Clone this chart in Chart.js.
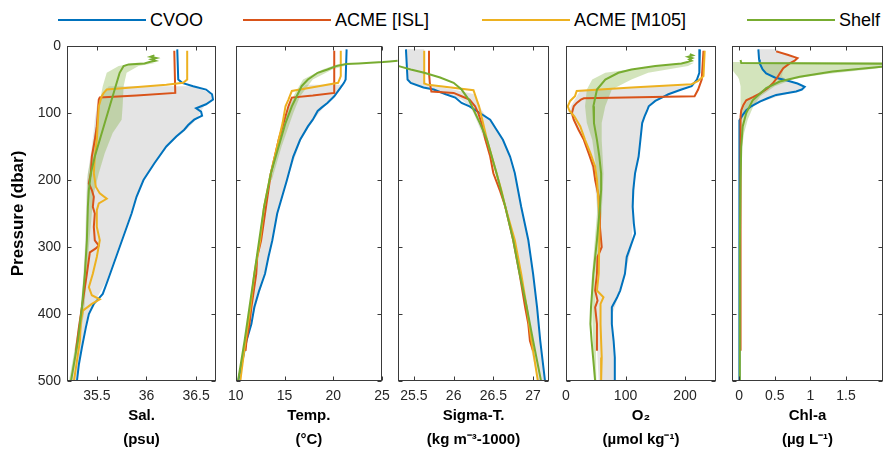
<!DOCTYPE html>
<html>
<head>
<meta charset="utf-8">
<script src="https://cdn.jsdelivr.net/npm/chart.js@4.4.0/dist/chart.umd.min.js"></script>
<style>
  body { margin: 0; background: #fff; width: 885px; height: 454px; position: relative; overflow: hidden;
         font-family: 'Liberation Sans', Arial, sans-serif; }
  canvas { position: absolute; top: 0; }
  .lg-line { position: absolute; height: 2px; top: 19px; }
  .lg-text { position: absolute; top: 9px; font-size: 18px; line-height: 22px; color: #000; white-space: nowrap; }
</style>
</head>
<body>
<div id="legend"></div>
<canvas id="c0"></canvas>
<canvas id="c1"></canvas>
<canvas id="c2"></canvas>
<canvas id="c3"></canvas>
<canvas id="c4"></canvas>
<script>
// series
const seriesNames = ['CVOO', 'ACME [ISL]', 'ACME [M105]', 'Shelf'];
const seriesColors = ['#0072BD', '#D95319', '#EDB120', '#77AC30'];

// pressure axis
const pTicks = [0, 100, 200, 300, 400, 500];

// ---- salinity (psu)
const salTicks = [35.5, 36, 36.5];
const salCvooP = [5, 50, 55, 60, 65, 72, 80, 87, 93, 98, 104, 110, 118, 125, 135, 150, 175, 200, 225, 250, 275, 300, 325, 350, 370, 385, 400, 420, 450, 475, 500];
const salCvoo  = [36.31, 36.32, 36.36, 36.47, 36.6, 36.66, 36.67, 36.6, 36.5, 36.55, 36.56, 36.48, 36.42, 36.38, 36.3, 36.2, 36.08, 35.97, 35.9, 35.85, 35.79, 35.73, 35.67, 35.61, 35.56, 35.47, 35.42, 35.39, 35.35, 35.32, 35.3];
const salIslP  = [7, 70, 74, 77, 80, 100, 120, 140, 165, 190, 205, 215, 225, 240, 250, 270, 290, 298, 302, 308, 340, 390, 420, 455];
const salIsl   = [36.28, 36.29, 35.9, 35.53, 35.52, 35.51, 35.5, 35.48, 35.45, 35.44, 35.42, 35.45, 35.47, 35.46, 35.48, 35.47, 35.48, 35.52, 35.49, 35.43, 35.4, 35.35, 35.32, 35.29];
const salM105P = [7, 50, 55, 58, 62, 65, 70, 75, 90, 115, 140, 165, 190, 210, 220, 228, 235, 245, 270, 290, 315, 340, 360, 372, 378, 385, 395, 410, 440, 470, 500];
const salM105  = [36.41, 36.41, 36.37, 36.2, 35.85, 35.6, 35.57, 35.55, 35.52, 35.51, 35.5, 35.48, 35.47, 35.49, 35.53, 35.6, 35.52, 35.5, 35.5, 35.53, 35.5, 35.46, 35.42, 35.45, 35.53, 35.45, 35.36, 35.34, 35.33, 35.3, 35.27];
const salShelfP = [14, 16, 18, 20, 22, 24, 26, 27.5, 30, 40, 50, 65, 90, 115, 140, 165, 190, 215, 240, 290, 340, 390, 440, 500];
const salShelf  = [36.08, 36.04, 36.1, 36.05, 36.09, 36.03, 35.98, 35.82, 35.77, 35.73, 35.71, 35.68, 35.63, 35.58, 35.53, 35.48, 35.44, 35.42, 35.41, 35.4, 35.38, 35.35, 35.31, 35.24];
const salGreyP  = [60, 70, 80, 90, 100, 110, 125, 150, 200, 250, 300, 350, 400, 450, 500];
const salGreyLo = [35.62, 35.56, 35.52, 35.5, 35.49, 35.48, 35.47, 35.45, 35.4, 35.39, 35.38, 35.36, 35.33, 35.28, 35.24];
const salGreyHi = [36.47, 36.64, 36.66, 36.58, 36.54, 36.5, 36.4, 36.2, 35.96, 35.84, 35.72, 35.6, 35.41, 35.34, 35.29];
const salShelfBandP  = [25, 30, 40, 60, 90, 110, 130, 160, 190, 220, 250, 300, 400, 500];
const salShelfBandLo = [35.9, 35.72, 35.6, 35.56, 35.52, 35.5, 35.48, 35.45, 35.41, 35.4, 35.4, 35.39, 35.34, 35.22];
const salShelfBandHi = [36.1, 35.92, 35.8, 35.77, 35.76, 35.75, 35.66, 35.58, 35.52, 35.47, 35.45, 35.42, 35.37, 35.25];

// ---- temperature (degC)
const tmpTicks = [10, 15, 20, 25];
const tmpCvooP = [5, 50, 55, 65, 75, 85, 92, 97, 110, 120, 140, 165, 200, 225, 250, 290, 315, 340, 365, 390, 415, 440, 465, 500];
const tmpCvoo  = [21.37, 21.27, 21.1, 20.6, 20.1, 19.4, 18.8, 18.4, 17.9, 17.4, 16.6, 15.9, 15.25, 14.75, 14.25, 13.75, 13.35, 13.0, 12.4, 11.9, 11.6, 11.1, 10.75, 10.25];
const tmpIslP  = [7, 70, 74, 77, 90, 115, 140, 190, 240, 290, 315, 340, 390, 415, 440, 455];
const tmpIsl   = [20.1, 20.1, 17.9, 15.75, 15.4, 14.9, 14.4, 13.6, 13.1, 12.6, 12.2, 12.1, 11.6, 11.4, 11.1, 11.0];
const tmpM105P = [7, 45, 55, 60, 67, 80, 90, 115, 140, 190, 240, 290, 340, 390, 440, 490, 500];
const tmpM105  = [20.77, 20.77, 20.5, 18.5, 15.75, 15.4, 15.1, 14.8, 14.4, 13.6, 12.9, 12.5, 11.9, 11.5, 11.0, 10.55, 10.47];
const tmpShelfP = [22, 23, 24, 25, 26, 27, 30, 35, 40, 50, 60, 75, 90, 115, 140, 190, 240, 290, 340, 390, 440, 500];
const tmpShelf  = [26.6, 25.8, 25.1, 23.8, 22.6, 21.3, 20.3, 19.4, 18.4, 17.4, 16.75, 16.25, 15.75, 15.1, 14.6, 13.6, 12.9, 12.4, 11.9, 11.4, 10.9, 10.23];
const tmpGreyP  = [58, 65, 75, 90, 110, 140, 200, 250, 300, 350, 400, 450, 500];
const tmpGreyLo = [17.2, 16.5, 16.1, 15.5, 14.9, 14.3, 13.4, 12.8, 12.3, 11.8, 11.3, 10.8, 10.2];
const tmpGreyHi = [21.1, 20.7, 20.1, 19.1, 18.0, 16.7, 15.25, 14.25, 13.6, 12.8, 11.85, 11.0, 10.25];
const tmpShelfBandP  = [27, 35, 50, 75, 100, 150, 200];
const tmpShelfBandLo = [20.5, 18.9, 16.9, 15.9, 15.3, 14.2, 13.3];
const tmpShelfBandHi = [21.8, 19.9, 17.9, 16.6, 15.9, 14.7, 13.7];

// ---- sigma-T (kg m-3 - 1000)
const sigTicks = [25.5, 26, 26.5, 27];
const sigCvooP = [5, 50, 55, 62, 65, 72, 77, 85, 90, 100, 110, 125, 140, 165, 190, 215, 240, 290, 340, 390, 440, 500];
const sigCvoo  = [25.4, 25.42, 25.46, 25.62, 25.75, 25.9, 26.02, 26.1, 26.2, 26.33, 26.46, 26.54, 26.62, 26.71, 26.77, 26.81, 26.85, 26.94, 27.0, 27.05, 27.09, 27.15];
const sigIslP  = [7, 40, 55, 68, 70, 75, 80, 90, 100, 115, 140, 165, 190, 215, 240, 290, 340, 390, 415, 440, 455];
const sigIsl   = [25.69, 25.69, 25.7, 25.72, 26.0, 26.1, 26.2, 26.27, 26.31, 26.35, 26.4, 26.46, 26.5, 26.58, 26.65, 26.75, 26.83, 26.9, 26.94, 26.96, 27.0];
const sigM105P = [7, 56, 58, 66, 80, 90, 115, 140, 165, 190, 215, 240, 290, 340, 390, 440, 500];
const sigM105  = [25.63, 25.63, 25.68, 26.25, 26.29, 26.32, 26.37, 26.42, 26.48, 26.54, 26.6, 26.65, 26.77, 26.85, 26.92, 26.98, 27.06];
const sigShelfP = [25, 28, 30, 35, 40, 47, 55, 65, 80, 100, 115, 140, 190, 240, 290, 340, 390, 440, 500];
const sigShelf  = [25.1, 25.25, 25.31, 25.46, 25.63, 25.83, 26.0, 26.1, 26.19, 26.27, 26.33, 26.42, 26.54, 26.65, 26.75, 26.83, 26.92, 27.0, 27.1];
const sigGreyP  = [5, 50, 58, 65, 72, 80, 90, 100, 120, 150, 200, 250, 300, 350, 400, 450, 500];
const sigGreyLo = [25.4, 25.42, 25.5, 25.7, 25.9, 26.1, 26.2, 26.25, 26.32, 26.42, 26.55, 26.66, 26.77, 26.84, 26.91, 26.97, 27.06];
const sigGreyHi = [25.63, 25.63, 25.66, 26.0, 26.26, 26.29, 26.32, 26.38, 26.52, 26.66, 26.78, 26.87, 26.95, 27.01, 27.06, 27.1, 27.15];

// ---- oxygen (umol kg-1)
const oxyTicks = [0, 100, 200];
const oxyCvooP = [5, 40, 50, 60, 65, 72, 77, 82, 90, 97, 105, 115, 140, 165, 190, 215, 240, 265, 280, 290, 315, 340, 365, 375, 390, 415, 440, 465, 500];
const oxyCvoo  = [225, 224, 220, 211, 194, 172, 161, 150, 139, 136, 132, 128, 125, 122, 116, 113, 112, 114, 116, 112, 102, 99, 91, 86, 77, 77, 80, 82, 82];
const oxyIslP  = [7, 50, 65, 75, 78, 80, 85, 90, 100, 110, 125, 140, 160, 180, 200, 225, 250, 270, 300, 315, 340, 365, 380, 390, 415, 440, 455];
const oxyIsl   = [231, 228, 222, 216, 30, 25, 18, 13, 10, 13, 21, 30, 38, 46, 49, 55, 57, 57, 60, 53, 52, 49, 53, 49, 52, 52, 52];
const oxyM105P = [7, 45, 52, 57, 62, 67, 75, 82, 90, 97, 105, 120, 140, 160, 180, 200, 225, 250, 290, 340, 365, 375, 385, 415, 465, 500];
const oxyM105  = [233, 231, 222, 211, 110, 18, 15, 7, 3, 6, 14, 24, 32, 41, 49, 52, 54, 56, 56, 55, 52, 63, 58, 58, 60, 59];
const oxyShelfP = [12, 14, 16, 18, 20, 22, 24, 26, 30, 35, 40, 50, 65, 90, 115, 140, 165, 190, 215, 240, 290, 340, 390, 415, 440, 500];
const oxyShelf  = [208, 213, 205, 212, 207, 211, 204, 194, 150, 110, 88, 66, 52, 46, 47, 52, 56, 59, 59, 57, 52, 46, 42, 41, 43, 49];
const oxyGreyP  = [60, 66, 72, 80, 90, 100, 110, 125, 150, 200, 250, 300, 350, 400, 450, 500];
const oxyGreyLo = [160, 25, 20, 15, 8, 6, 12, 22, 35, 48, 53, 53, 50, 50, 52, 55];
const oxyGreyHi = [211, 190, 172, 152, 139, 136, 130, 127, 124, 116, 113, 110, 97, 78, 80, 82];
const oxyShelfBandP  = [25, 30, 40, 50, 65, 90, 115, 140, 190, 250, 350, 500];
const oxyShelfBandLo = [195, 150, 66, 44, 35, 32, 35, 44, 52, 52, 43, 47];
const oxyShelfBandHi = [215, 205, 138, 110, 77, 66, 60, 60, 63, 60, 49, 51];

// ---- chlorophyll-a (ug L-1)
const chlTicks = [0, 0.5, 1, 1.5];
const chlCvooP = [5, 20, 26, 35, 41, 47, 51, 56, 61, 65, 68, 73, 78, 83, 90, 96, 103, 110, 125, 200, 300, 400, 500];
const chlCvoo  = [0.27, 0.28, 0.29, 0.33, 0.38, 0.5, 0.66, 0.82, 0.92, 0.88, 0.8, 0.52, 0.4, 0.29, 0.17, 0.1, 0.05, 0.01, 0.0, 0.01, 0.01, 0.0, 0.0];
const chlIslP  = [8, 13, 18, 22, 26, 33, 41, 48, 56, 63, 71, 76, 81, 88, 96, 105, 115, 150, 250, 350, 455];
const chlIsl   = [0.52, 0.68, 0.82, 0.78, 0.71, 0.62, 0.57, 0.53, 0.47, 0.4, 0.29, 0.2, 0.1, 0.06, 0.03, 0.02, 0.02, 0.02, 0.02, 0.02, 0.02];
const chlShelfP = [21, 25.5, 26.5, 28, 31, 38, 46, 53, 63, 81, 100, 120, 150, 200, 300, 400, 500];
const chlShelf  = [0.02, 0.03, 2.4, 2.8, 2.0, 1.31, 0.85, 0.57, 0.38, 0.19, 0.1, 0.05, 0.03, 0.02, 0.01, 0.01, 0.01];
const chlGreyP  = [5, 15, 20, 26, 35, 45, 52, 58, 63, 68, 75, 82, 90, 100, 110];
const chlGreyLo = [0.27, 0.28, 0.28, 0.29, 0.33, 0.45, 0.55, 0.45, 0.38, 0.3, 0.22, 0.12, 0.07, 0.04, 0.01];
const chlGreyHi = [0.52, 0.72, 0.8, 0.71, 0.62, 0.6, 0.68, 0.85, 0.92, 0.8, 0.55, 0.35, 0.18, 0.1, 0.03];
const chlShelfBandP  = [24, 27, 30, 34, 38, 42, 46, 50, 60, 75, 90, 110, 130, 160, 200];
const chlShelfBandLo = [-0.1, -0.1, -0.1, -0.1, -0.08, -0.05, -0.02, 0.0, 0.02, 0.02, 0.02, 0.01, 0.0, 0.0, 0.0];
const chlShelfBandHi = [2.1, 2.1, 2.1, 1.9, 1.55, 1.2, 0.95, 0.75, 0.5, 0.3, 0.2, 0.12, 0.07, 0.03, 0.01];

// ---------------------------------------------------------------
const FONT = "'Liberation Sans', Arial, sans-serif";
const GREY = 'rgb(228,228,228)';
const GREEN_BAND = 'rgba(119,172,48,0.32)';
const H = 454, TOP = 46, BOTTOM = 381;
const boxes = [[67, 216], [233, 382], [398, 549], [566, 716], [732, 883]];

function profile(p, v, k, extra) {
  return Object.assign({
    label: seriesNames[k],
    data: p.map((pp, i) => ({x: v[i], y: pp})),
    borderColor: seriesColors[k], backgroundColor: seriesColors[k],
    borderWidth: 2, pointRadius: 0, fill: false, tension: 0,
    order: 4 - k
  }, extra || {});
}
function band(p, lo, hi, color, order) {
  const left = p.map((pp, i) => ({x: lo[i], y: pp}));
  const right = p.map((pp, i) => ({x: hi[i], y: pp})).reverse();
  return { data: left.concat(right), borderWidth: 0, borderColor: 'rgba(0,0,0,0)',
           backgroundColor: color, pointRadius: 0, fill: 'shape', order: order };
}

// MATLAB-like box with inward ticks
const frame = {
  id: 'frame',
  afterDatasetsDraw(chart) {
    const {ctx, chartArea: a, scales: {x, y}} = chart;
    const L = Math.round(a.left) + 0.5, R = Math.round(a.right) - 0.5;
    const T = Math.round(a.top) + 0.5, B = Math.round(a.bottom) - 0.5;
    ctx.save();
    ctx.strokeStyle = '#3a3a3a';
    ctx.lineWidth = 1;
    ctx.beginPath();
    x.ticks.forEach(t => {
      const px = Math.round(x.getPixelForValue(t.value)) + 0.5;
      ctx.moveTo(px, T); ctx.lineTo(px, T + 4);
      ctx.moveTo(px, B); ctx.lineTo(px, B - 4);
    });
    y.ticks.forEach(t => {
      const py = Math.round(y.getPixelForValue(t.value)) + 0.5;
      ctx.moveTo(L, py); ctx.lineTo(L + 4, py);
      ctx.moveTo(R, py); ctx.lineTo(R - 4, py);
    });
    ctx.stroke();
    ctx.strokeRect(L, T, R - L, B - T);
    ctx.restore();
  }
};

function panel(i, cfg) {
  const [L, R] = boxes[i];
  const padL = i === 0 ? L : 12;
  const padR = i === 4 ? 885 - R : 17;
  const cv = document.getElementById('c' + i);
  cv.width = padL + (R - L) + padR;
  cv.height = H;
  cv.style.left = (L - padL) + 'px';
  new Chart(cv, {
    type: 'line',
    data: { datasets: cfg.datasets },
    options: {
      responsive: false, animation: false, events: [],
      layout: { padding: { top: TOP, right: padR, left: 0, bottom: 0 } },
      plugins: { legend: { display: false }, tooltip: { enabled: false } },
      scales: {
        x: {
          type: 'linear', min: cfg.min, max: cfg.max,
          grid: { display: false, drawTicks: false }, border: { display: false },
          afterBuildTicks: s => { s.ticks = cfg.ticks.map(v => ({value: v})); },
          afterFit: s => { s.height = H - BOTTOM; },
          ticks: { padding: 7, color: '#262626', autoSkip: false, maxRotation: 0,
                   font: { family: FONT, size: 14 }, callback: v => String(v) },
          title: { display: true, text: cfg.title, color: '#000',
                   font: { family: FONT, size: 15, weight: 'bold', lineHeight: 24 / 15 },
                   padding: { top: 0, bottom: 2 } }
        },
        y: {
          type: 'linear', min: 0, max: 500, reverse: true,
          grid: { display: false, drawTicks: false }, border: { display: false },
          afterBuildTicks: s => { s.ticks = pTicks.map(v => ({value: v})); },
          afterFit: s => { s.width = padL; },
          ticks: { display: i === 0, padding: 6, color: '#262626', font: { family: FONT, size: 14 } },
          title: { display: i === 0, text: 'Pressure (dbar)', color: '#000',
                   font: { family: FONT, size: 17, weight: 'bold' },
                   padding: { top: 8, bottom: 0 } }
        }
      }
    },
    plugins: [frame]
  });
}

panel(0, { min: 35.2, max: 36.7, ticks: salTicks, title: ['Sal.', '(psu)'], datasets: [
  band(salGreyP, salGreyLo, salGreyHi, GREY, 10),
  band(salShelfBandP, salShelfBandLo, salShelfBandHi, GREEN_BAND, 9),
  profile(salCvooP, salCvoo, 0), profile(salIslP, salIsl, 1),
  profile(salM105P, salM105, 2), profile(salShelfP, salShelf, 3)
]});
panel(1, { min: 10, max: 25, ticks: tmpTicks, title: ['Temp.', '(°C)'], datasets: [
  band(tmpGreyP, tmpGreyLo, tmpGreyHi, GREY, 10),
  band(tmpShelfBandP, tmpShelfBandLo, tmpShelfBandHi, GREEN_BAND, 9),
  profile(tmpCvooP, tmpCvoo, 0), profile(tmpIslP, tmpIsl, 1),
  profile(tmpM105P, tmpM105, 2),
  profile(tmpShelfP, tmpShelf, 3, { clip: { left: 0, top: 0, right: 17, bottom: 0 } })
]});
panel(2, { min: 25.3, max: 27.2, ticks: sigTicks, title: ['Sigma-T.', '(kg m\u207B\u00B3-1000)'], datasets: [
  band(sigGreyP, sigGreyLo, sigGreyHi, GREY, 10),
  profile(sigCvooP, sigCvoo, 0), profile(sigIslP, sigIsl, 1),
  profile(sigM105P, sigM105, 2), profile(sigShelfP, sigShelf, 3)
]});
panel(3, { min: 0, max: 252, ticks: oxyTicks, title: ['O\u2082', '(\u00B5mol kg\u207B\u00B9)'], datasets: [
  band(oxyGreyP, oxyGreyLo, oxyGreyHi, GREY, 10),
  band(oxyShelfBandP, oxyShelfBandLo, oxyShelfBandHi, GREEN_BAND, 9),
  profile(oxyCvooP, oxyCvoo, 0), profile(oxyIslP, oxyIsl, 1),
  profile(oxyM105P, oxyM105, 2), profile(oxyShelfP, oxyShelf, 3)
]});
panel(4, { min: -0.1, max: 2.02, ticks: chlTicks, title: ['Chl-a', '(\u00B5g L\u207B\u00B9)'], datasets: [
  band(chlGreyP, chlGreyLo, chlGreyHi, GREY, 10),
  band(chlShelfBandP, chlShelfBandLo, chlShelfBandHi, GREEN_BAND, 9),
  profile(chlCvooP, chlCvoo, 0), profile(chlIslP, chlIsl, 1),
  profile(chlShelfP, chlShelf, 3)
]});

// legend across the top
const legendX = [58, 243, 482, 747];
const legend = document.getElementById('legend');
seriesNames.forEach((name, k) => {
  const ln = document.createElement('div');
  ln.className = 'lg-line';
  ln.style.left = legendX[k] + 'px';
  ln.style.width = '88px';
  ln.style.background = seriesColors[k];
  const tx = document.createElement('div');
  tx.className = 'lg-text';
  tx.style.left = (legendX[k] + 92) + 'px';
  tx.textContent = name;
  legend.appendChild(ln);
  legend.appendChild(tx);
});
</script>
</body>
</html>
